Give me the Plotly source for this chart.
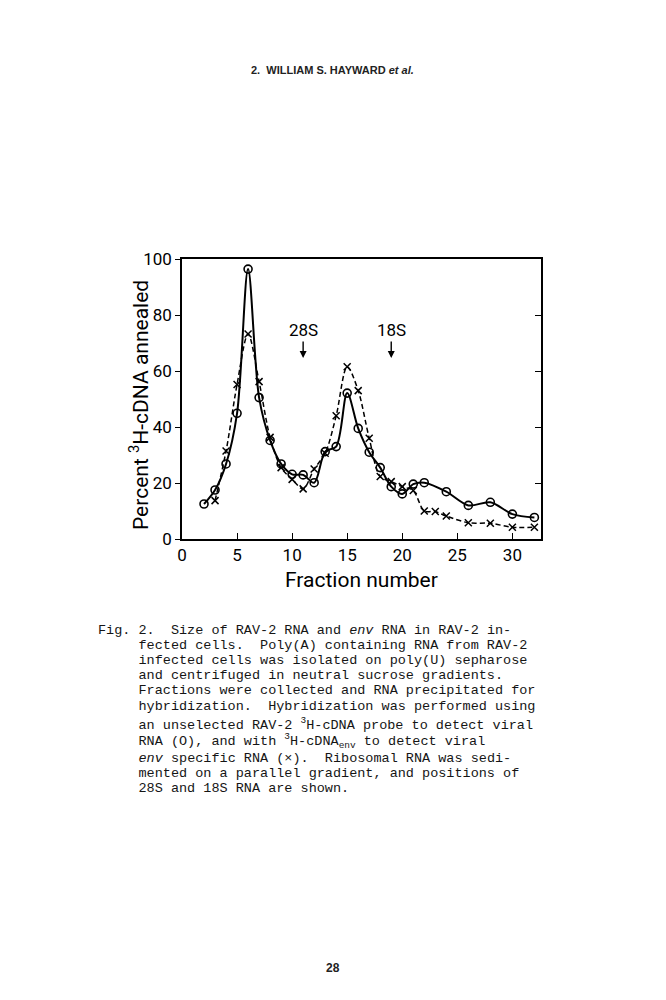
import plotly.graph_objects as go

# ----------------------------
# Data
# ----------------------------
fraction_rna = [2, 3, 4, 5, 6, 7, 8, 9, 10, 11, 12, 13, 14, 15, 16, 17, 18, 19, 20, 21, 22, 24, 26, 28, 30, 32]
rna_annealed = [12.5, 17.5, 26.8, 44.9, 96.4, 50.5, 35.2, 26.8, 23.1, 22.9, 20.1, 31.2, 33.0, 52.1, 39.5, 31.0,
                25.5, 18.7, 16.1, 19.6, 20.1, 16.9, 12.0, 13.1, 8.9, 7.7]

fraction_env = [3, 4, 5, 6, 7, 8, 9, 10, 11, 12, 13, 14, 15, 16, 17, 18, 19, 20, 21, 22, 23, 24, 26, 28, 30, 32]
env_annealed = [13.7, 31.4, 55.2, 73.2, 56.2, 36.3, 25.5, 21.3, 17.9, 25.0, 30.6, 44.0, 61.5, 53.0, 36.0,
                22.3, 20.5, 18.7, 17.3, 10.0, 9.8, 8.2, 5.8, 5.6, 4.2, 4.2]

marker_labels = ["28S", "18S"]
marker_fractions = [11, 19]

x_ticks = [0, 5, 10, 15, 20, 25, 30]
y_ticks = [0, 20, 40, 60, 80, 100]

caption_lines = [
    "Fig. 2.  Size of RAV-2 RNA and <i>env</i> RNA in RAV-2 in-",
    "     fected cells.  Poly(A) containing RNA from RAV-2",
    "     infected cells was isolated on poly(U) sepharose",
    "     and centrifuged in neutral sucrose gradients.",
    "     Fractions were collected and RNA precipitated for",
    "     hybridization.  Hybridization was performed using",
    "     an unselected RAV-2 <sup>3</sup>H-cDNA probe to detect viral",
    "     RNA (O), and with <sup>3</sup>H-cDNA<sub>env</sub> to detect viral",
    "     <i>env</i> specific RNA (\u00d7).  Ribosomal RNA was sedi-",
    "     mented on a parallel gradient, and positions of",
    "     28S and 18S RNA are shown.",
]
caption_y = [630, 645, 660, 675, 690, 706, 724, 741, 758, 773, 788]

# page body has an 8px margin, so figure coords = page coords - 8
OFF = 8
W, H = 666 - 2 * OFF, 1000 - 2 * OFF
L, R, T, B = 182 - OFF, 541 - OFF, 259 - OFF, 539 - OFF
SANS = "Roboto, Liberation Sans, sans-serif"


def px_x(px):
    return (px - OFF - L) / (R - L)


def px_y(py):
    return (B - (py - OFF)) / (B - T)


fig = go.Figure()

fig.add_trace(go.Scatter(
    x=fraction_rna, y=rna_annealed, mode="lines+markers", name="RNA",
    line=dict(color="black", width=2, shape="spline", smoothing=0.9),
    marker=dict(symbol="circle-open", size=8, color="black", line=dict(width=1.6)),
))
fig.add_trace(go.Scatter(
    x=fraction_env, y=env_annealed, mode="lines+markers", name="env RNA",
    line=dict(color="black", width=1.5, dash="5px,3px", shape="spline", smoothing=0.9),
    marker=dict(symbol="x-thin-open", size=7, color="black", line=dict(width=1.5, color="black")),
))
# empty trace so the right-hand tick axis is drawn
fig.add_trace(go.Scatter(x=[], y=[], yaxis="y2", showlegend=False))

for lab, fr in zip(marker_labels, marker_fractions):
    fig.add_annotation(
        x=fr, y=64.6, text=lab, showarrow=True, ax=0, ay=-28,
        arrowhead=2, arrowsize=1, arrowwidth=1.4, arrowcolor="black",
        font=dict(family=SANS, size=17, color="black"),
    )

# axis titles
fig.add_annotation(
    xref="paper", yref="paper", x=px_x(361), y=px_y(580), showarrow=False,
    xanchor="center", yanchor="middle", text="Fraction number",
    font=dict(family=SANS, size=21, color="black"),
)
fig.add_annotation(
    xref="paper", yref="paper", x=px_x(139), y=px_y(405), showarrow=False, textangle=-90,
    xanchor="center", yanchor="middle", text="Percent <sup>3</sup>H-cDNA annealed",
    font=dict(family=SANS, size=21, color="black"),
)

# header, caption, page number
fig.add_annotation(
    xref="paper", yref="paper", x=px_x(332), y=px_y(70), showarrow=False,
    xanchor="center", yanchor="middle",
    text="<b>2.  WILLIAM S. HAYWARD <i>et al.</i></b>",
    font=dict(family="Liberation Sans, Arial, sans-serif", size=11, color="#222"),
)
for line, yy in zip(caption_lines, caption_y):
    fig.add_annotation(
        xref="paper", yref="paper", x=px_x(96), y=px_y(yy), xanchor="left", yanchor="middle",
        showarrow=False, text=line.replace(" ", "\u00a0"),
        font=dict(family="Liberation Mono, Courier New, monospace", size=13.5, color="#151515"),
    )
fig.add_annotation(
    xref="paper", yref="paper", x=px_x(333), y=px_y(968), showarrow=False,
    xanchor="center", yanchor="middle",
    text="<b>28</b>", font=dict(family="Liberation Sans, Arial, sans-serif", size=12, color="#222"),
)

fig.update_layout(
    width=W, height=H, autosize=False,
    margin=dict(l=L, r=W - R, t=T, b=H - B),
    paper_bgcolor="white", plot_bgcolor="white",
    showlegend=False,
    font=dict(family=SANS, color="black"),
    xaxis=dict(
        range=[0, 32.6], tickvals=x_ticks, ticks="inside", ticklen=6, tickwidth=1.4, tickcolor="black",
        showline=True, linecolor="black", linewidth=1.6, mirror=True, showgrid=False, zeroline=False,
        tickfont=dict(size=17),
    ),
    yaxis=dict(
        range=[0, 100], tickvals=y_ticks, ticks="outside", ticklen=5, tickwidth=1.4, tickcolor="black",
        showline=True, linecolor="black", linewidth=1.6, mirror=True, showgrid=False, zeroline=False,
        tickfont=dict(size=17),
    ),
    yaxis2=dict(
        range=[0, 100], overlaying="y", side="right", tickvals=[20, 40, 60, 80], ticks="inside",
        ticklen=6, tickwidth=1.4, tickcolor="black", showticklabels=False, showgrid=False,
        zeroline=False, showline=False,
    ),
)

fig.write_html("out.html")
